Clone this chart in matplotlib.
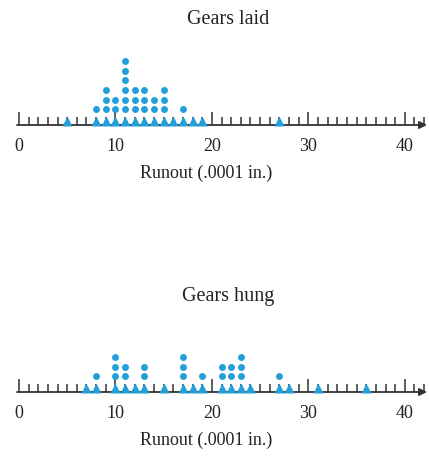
import matplotlib.pyplot as plt
from matplotlib.ticker import MultipleLocator

# runout values (.0001 in.) and how many gears gave each value
laid_runout = [5, 8, 9, 10, 11, 12, 13, 14, 15, 16, 17, 18, 19, 27]
laid_count = [1, 2, 4, 3, 7, 4, 4, 3, 4, 1, 2, 1, 1, 1]

hung_runout = [7, 8, 10, 11, 12, 13, 15, 17, 18, 19, 21, 22, 23, 24, 27, 28, 31, 36]
hung_count = [1, 2, 4, 3, 1, 3, 1, 4, 1, 2, 3, 3, 4, 1, 2, 1, 1, 1]

tick_values = [0, 10, 20, 30, 40]
xlabel = 'Runout (.0001 in.)'

dot_color = '#23a0da'
line_color = '#333333'
text_color = '#222222'
serif = 'Liberation Serif'

W, H = 429, 464
fig = plt.figure(figsize=(W / 100, H / 100), dpi=100)


def dotplot(axis_y, title_y, values, counts, title):
    # axes box: x from -0.2 to 42.3 units, bottom edge is the number line
    ax = fig.add_axes([17 / W, (H - axis_y) / H, 410 / W, 76 / H])
    ax.set_xlim(-0.2, 42.3)
    ax.set_ylim(-0.6, 7.24)
    for s in ax.spines.values():
        s.set_visible(False)
    ax.set_yticks([])

    ax.annotate('', xy=(42.3, -0.6), xytext=(-0.2, -0.6),
                arrowprops=dict(arrowstyle='-|>', color=line_color, lw=1.3,
                                mutation_scale=11, shrinkA=0, shrinkB=0),
                annotation_clip=False)

    ax.xaxis.set_minor_locator(MultipleLocator(1))
    ax.set_xticks(tick_values)
    ax.set_xticklabels([str(t) for t in tick_values], fontfamily=serif, fontsize=13)
    ax.tick_params(which='major', direction='in', length=9.5, width=1.1,
                   color=line_color, pad=8.5, labelcolor=text_color)
    ax.tick_params(which='minor', direction='in', length=5.5, width=1.1,
                   color=line_color)

    # bottom of every stack
    ax.plot(values, [-0.2] * len(values), '^', color=dot_color, ms=6.5,
            mec='none', clip_on=False, zorder=3)
    sx, sy = [], []
    for v, c in zip(values, counts):
        for k in range(1, c):
            sx.append(v)
            sy.append(k)
    ax.plot(sx, sy, 'o', color=dot_color, ms=5, mec='none',
            clip_on=False, zorder=3)

    ax.set_xlabel(xlabel, fontfamily=serif, fontsize=13, color=text_color)
    ax.xaxis.set_label_coords(189 / 410, -39 / 76)
    fig.text(228 / W, 1 - title_y / H, title, ha='center', va='center',
             fontfamily=serif, fontsize=14.5, color=text_color)
    return ax


dotplot(126, 19, laid_runout, laid_count, 'Gears laid')
dotplot(393, 296, hung_runout, hung_count, 'Gears hung')

fig.savefig('out.png', dpi=100)
